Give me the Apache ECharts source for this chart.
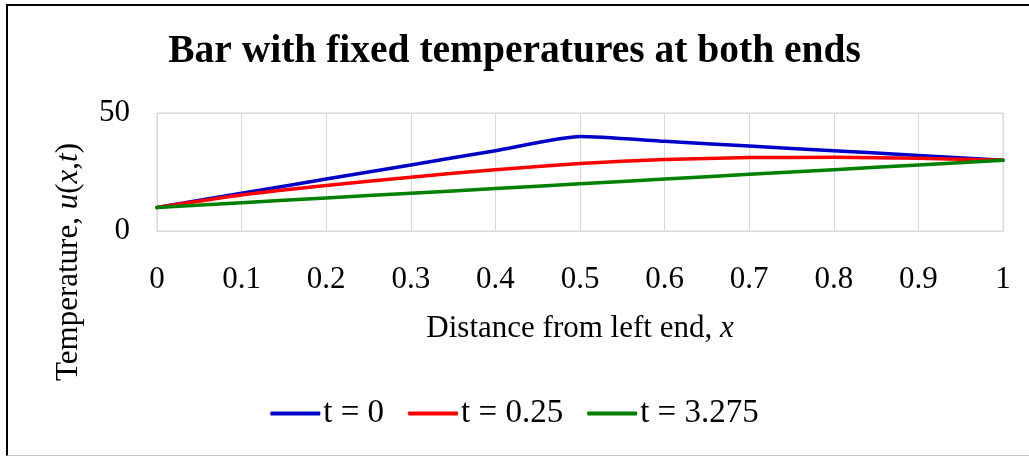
<!DOCTYPE html>
<html>
<head>
<meta charset="utf-8">
<script src="https://cdn.jsdelivr.net/npm/echarts@6/dist/echarts.min.js"></script>
<style>
html,body{margin:0;padding:0;background:#fff;}
#frame{position:absolute;left:0;top:0;width:1029px;height:456px;overflow:hidden;}
#border{position:absolute;left:6px;top:4px;width:1040px;height:452px;border-left:2px solid #000;border-top:2px solid #000;border-bottom:1px solid #c8c8c8;box-sizing:border-box;}
#chart{position:absolute;left:0;top:0;width:1029px;height:456px;}
</style>
</head>
<body>
<div id="frame">
<div id="border"></div>
<div id="chart"></div>
</div>
<script>
const xValues = [0, 0.1, 0.2, 0.3, 0.4, 0.5, 0.6, 0.7, 0.8, 0.9, 1];
const seriesNames = ['t = 0', 't = 0.25', 't = 3.275'];
const uT0 =     [10, 16, 22, 28, 34, 40, 38, 36, 34, 32, 30];
const uT025 =   [10, 15.3, 19.3, 22.8, 26.0, 28.6, 30.3, 31.1, 31.2, 30.8, 30];
const uT3275 =  [10, 12, 14, 16, 18, 20, 22, 24, 26, 28, 30];
const colors = ['#0000c8', '#ff0000', '#008000'];

const font = '"Liberation Serif", "DejaVu Serif", serif';
const fs = 31;
const pairs = arr => xValues.map((x, i) => [x, arr[i]]);
const allSeries = [uT0, uT025, uT3275];

const chart = echarts.init(document.getElementById('chart'), null, {renderer: 'canvas'});
chart.setOption({
  animation: false,
  backgroundColor: 'transparent',
  title: {
    text: 'Bar with fixed temperatures at both ends',
    left: 'center',
    top: 27,
    textStyle: {fontFamily: font, fontWeight: 'bold', fontSize: 39.5, color: '#000'}
  },
  legend: {
    top: 392,
    left: 'center',
    icon: 'roundRect',
    itemWidth: 50,
    itemHeight: 4,
    itemGap: 24,
    textStyle: {fontFamily: font, fontSize: 33, color: '#000', padding: [0, 0, 0, -2]},
    data: seriesNames
  },
  grid: {
    left: 157, right: 26, top: 113, height: 118,
    show: true, borderColor: '#d9d9d9', borderWidth: 1
  },
  xAxis: {
    type: 'value', min: 0, max: 1, interval: 0.1,
    axisLine: {show: true, lineStyle: {color: '#d9d9d9', width: 1}},
    axisTick: {show: false},
    splitLine: {show: true, lineStyle: {color: '#d9d9d9', width: 1}},
    axisLabel: {fontFamily: font, fontSize: fs, color: '#000', margin: 33,
      formatter: v => String(Math.round(v * 10) / 10)},
    name: 'Distance from left end, {i|x}',
    nameLocation: 'middle',
    nameGap: 82,
    nameTextStyle: {fontFamily: font, fontSize: fs, color: '#000',
      rich: {i: {fontFamily: font, fontStyle: 'italic', fontSize: fs, color: '#000'}}}
  },
  yAxis: {
    type: 'value', min: 0, max: 50, interval: 50,
    axisLine: {show: false},
    axisTick: {show: false},
    splitLine: {show: true, lineStyle: {color: '#d9d9d9', width: 1}},
    axisLabel: {fontFamily: font, fontSize: fs, color: '#000', margin: 27},
    name: 'Temperature, {i|u}({i|x},{i|t})',
    nameLocation: 'middle',
    nameGap: 73,
    nameRotate: 90,
    nameTextStyle: {fontFamily: font, fontSize: fs, color: '#000', padding: [0, 180, 0, 0],
      rich: {i: {fontFamily: font, fontStyle: 'italic', fontSize: fs, color: '#000'}}}
  },
  series: seriesNames.map((name, k) => ({
    name: name,
    type: 'line',
    data: pairs(allSeries[k]),
    smooth: 0.2,
    symbol: 'none',
    lineStyle: {color: colors[k], width: 3.5, cap: 'round', join: 'round'},
    itemStyle: {color: colors[k]}
  }))
});
</script>
</body>
</html>
